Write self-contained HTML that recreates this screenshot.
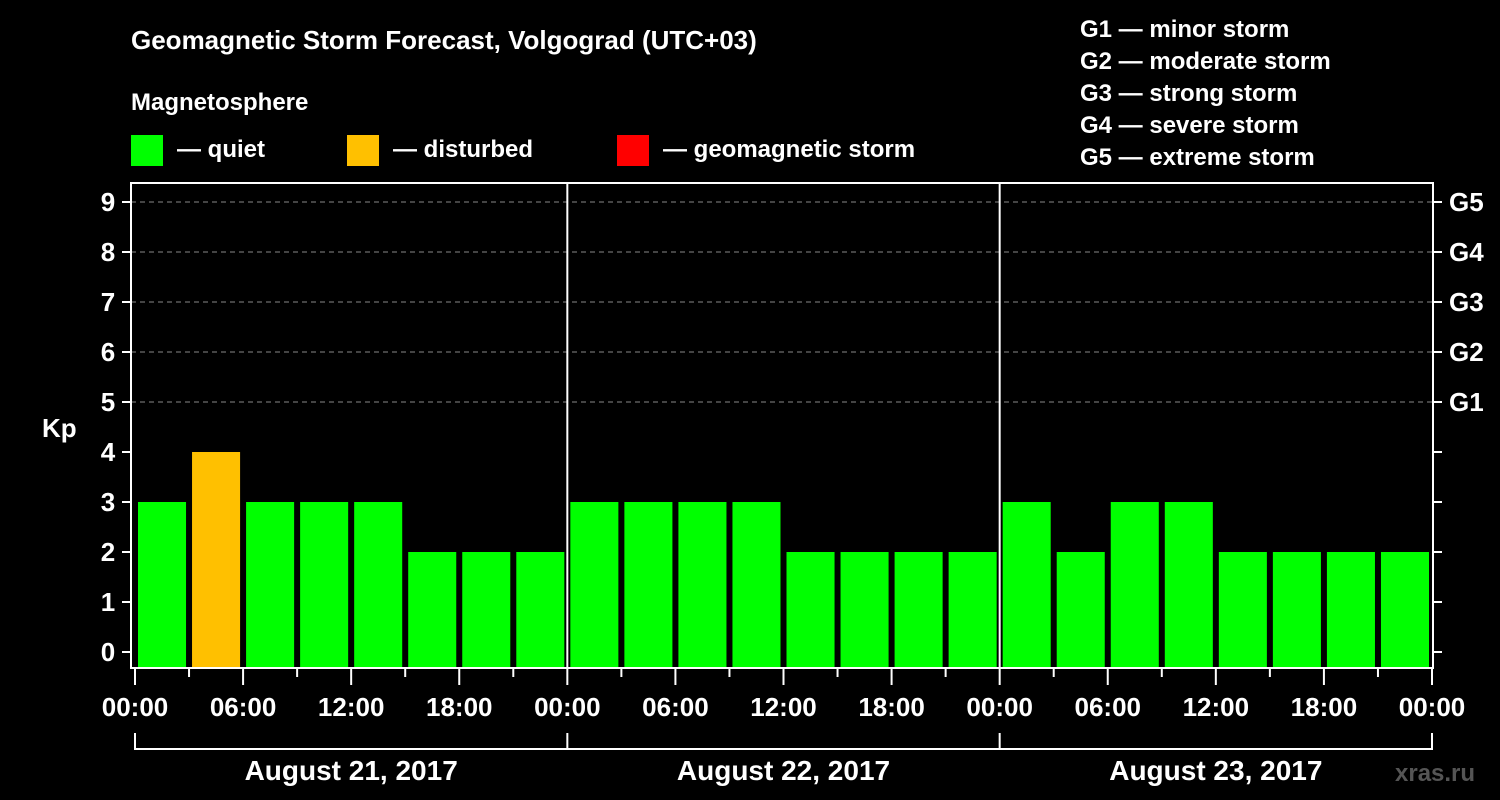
<!DOCTYPE html>
<html><head><meta charset="utf-8"><style>
html,body{margin:0;padding:0;background:#000;width:1500px;height:800px;overflow:hidden}
svg text{font-family:"Liberation Sans",Arial,sans-serif;font-weight:bold;fill:#fff}
</style></head><body>
<svg id="chart" width="1500" height="800" xmlns="http://www.w3.org/2000/svg">
<rect width="1500" height="800" fill="#000"/>
<text x="131" y="49" font-size="26">Geomagnetic Storm Forecast, Volgograd (UTC+03)</text>
<text x="131" y="110" font-size="24">Magnetosphere</text>
<g>
<rect x="131" y="135" width="32" height="31" fill="#00ff00"/>
<text x="177" y="157" font-size="24">— quiet</text>
<rect x="347" y="135" width="32" height="31" fill="#ffc000"/>
<text x="393" y="157" font-size="24">— disturbed</text>
<rect x="617" y="135" width="32" height="31" fill="#ff0000"/>
<text x="663" y="157" font-size="24">— geomagnetic storm</text>
</g>
<g font-size="24">
<text x="1080" y="37">G1 — minor storm</text>
<text x="1080" y="69">G2 — moderate storm</text>
<text x="1080" y="101">G3 — strong storm</text>
<text x="1080" y="133">G4 — severe storm</text>
<text x="1080" y="165">G5 — extreme storm</text>
</g>
<text x="42" y="437" font-size="26">Kp</text>
<text x="1395" y="781" font-size="24" fill="#555" style="fill:#555">xras.ru</text>
<g id="grid"></g><g id="bars"></g><g id="axes"></g>
</svg>
<script>
const days = ["August 21, 2017", "August 22, 2017", "August 23, 2017"];
const kpValues = [3,4,3,3,3,2,2,2, 3,3,3,3,2,2,2,2, 3,2,3,3,2,2,2,2];
const yTicks = [0,1,2,3,4,5,6,7,8,9];
const gLabels = ["G1","G2","G3","G4","G5"];
const xTickLabels = ["00:00","06:00","12:00","18:00"];

const NS = "http://www.w3.org/2000/svg";
const x0 = 135, x1 = 1432, plotTop = 183, plotBottom = 668, left = 131, right = 1433;
const slotsTotal = kpValues.length;
const slotW = (x1 - x0) / slotsTotal;
const xAt = i => x0 + i * slotW;
const yAt = v => 652 - v * 50;
function mk(tag, attrs, parent) { const e = document.createElementNS(NS, tag); for (const k in attrs) e.setAttribute(k, attrs[k]); parent.appendChild(e); return e; }
const grid = document.getElementById("grid"), bars = document.getElementById("bars"), axes = document.getElementById("axes");

yTicks.forEach(v => {
  if (v >= 5) {
    const l = mk("line", {x1:left, x2:right, y1:yAt(v), y2:yAt(v), stroke:"#888", "stroke-width":1, "stroke-dasharray":"5,4"}, grid);
    
    
  }
  const t = mk("line", {x1:122, x2:left, y1:yAt(v), y2:yAt(v), stroke:"#fff", "stroke-width":2}, axes);
  
  
  const rt = mk("line", {x1:right, x2:1442, y1:yAt(v), y2:yAt(v), stroke:"#fff", "stroke-width":2}, axes);
  
  
  const lb = mk("text", {x:108, y:yAt(v)+9, "font-size":26, "text-anchor":"middle"}, axes);
  lb.textContent = v;
  
  
});
gLabels.forEach((g, i) => {
  const lb = mk("text", {x:1449, y:yAt(5+i)+9, "font-size":26}, axes);
  lb.textContent = g;
  
  
});

kpValues.forEach((v, i) => {
  const color = v >= 5 ? "#ff0000" : (v >= 4 ? "#ffc000" : "#00ff00");
  const b = mk("rect", {x:xAt(i)+3, y:yAt(v), width:slotW-6, height:plotBottom - yAt(v), fill:color}, bars);
  
  
});

const frame = mk("rect", {x:left, y:plotTop, width:right-left, height:plotBottom-plotTop, fill:"none", stroke:"#fff", "stroke-width":2}, axes);



const perDay = slotsTotal / days.length;
for (let i = 0; i <= slotsTotal; i++) {
  const x = xAt(i);
  const major = i % 2 === 0;
  const t = mk("line", {x1:x, x2:x, y1:plotBottom, y2:major?685:677, stroke:"#fff", "stroke-width":2}, axes);
  
  
  if (major) {
    const lb = mk("text", {x:x, y:716, "font-size":26, "text-anchor":"middle"}, axes);
    lb.textContent = xTickLabels[(i / 2) % xTickLabels.length];
    
    
  }
}
days.forEach((d, k) => {
  const xs = xAt(k * perDay), xe = xAt((k + 1) * perDay);
  if (k > 0) {
    const dv = mk("line", {x1:xs, x2:xs, y1:plotTop, y2:plotBottom, stroke:"#fff", "stroke-width":2}, axes);
    
    
  }
  const br = mk("path", {d:`M${xs},733 V749 H${xe}` + (k === days.length - 1 ? ` V733` : ``), fill:"none", stroke:"#fff", "stroke-width":2}, axes);
  
  
  const lb = mk("text", {x:(xs + xe) / 2, y:780, "font-size":28, "text-anchor":"middle"}, axes);
  lb.textContent = d;
  
  
});
</script>
</body></html>
